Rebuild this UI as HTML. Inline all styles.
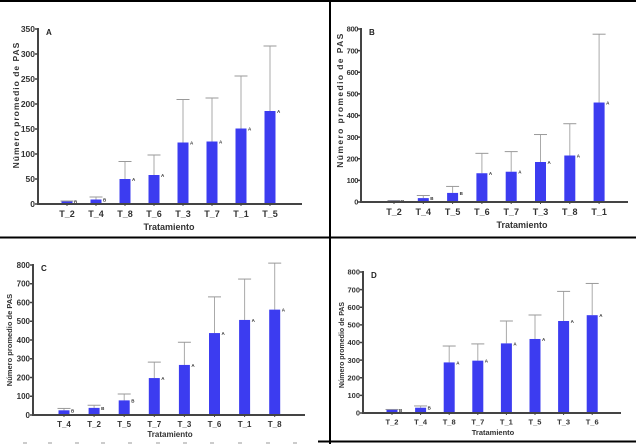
<!DOCTYPE html>
<html><head><meta charset="utf-8"><style>
body{margin:0;background:#fff}
svg{display:block;font-family:"Liberation Sans",Arial,sans-serif;font-weight:bold}
</style></head><body>
<svg id="s" width="636" height="444" viewBox="0 0 636 444" xmlns="http://www.w3.org/2000/svg">
<rect width="636" height="444" fill="#fff"/>
<line x1="0" y1="1" x2="636" y2="1" stroke="#000" stroke-width="2"/>
<line x1="0" y1="237.5" x2="636" y2="237.5" stroke="#000" stroke-width="2"/>
<line x1="330" y1="0" x2="330" y2="444" stroke="#000" stroke-width="2"/>
<line x1="318" y1="441.5" x2="636" y2="441.5" stroke="#000" stroke-width="2"/>
<g id="g"></g>
</svg>
<script>
var g=document.getElementById('g'),NS='http://www.w3.org/2000/svg';
function el(t,a,txt){var e=document.createElementNS(NS,t);for(var k in a)e.setAttribute(k,a[k]);if(txt!=null)e.textContent=txt;g.appendChild(e);return e;}
function panel(p){
 var sc=(p.y0-p.ytop)/p.max;
 for(var v=0;v<=p.max;v+=p.step){var y=p.y0-v*sc;
  el('line',{x1:p.ax-3,y1:y,x2:p.ax,y2:y,stroke:'#444','stroke-width':1.5});
  el('text',{x:p.ax-3,y:y+p.tfs*0.35,'text-anchor':'end','font-size':p.tfs,fill:'#333','letter-spacing':p.tls||0},String(v));}
 for(var i=0;i<8;i++){var cx=p.c0+i*p.sp,h=p.v[i]*sc,et=p.y0-p.e[i]*sc;
  el('line',{x1:cx,y1:p.y0-h,x2:cx,y2:et,stroke:'#aaa','stroke-width':1});
  el('line',{x1:cx-6.5,y1:et,x2:cx+6.5,y2:et,stroke:'#999','stroke-width':1});
  el('rect',{x:cx-5.5,y:p.y0-h,width:11,height:h,fill:'#3c3cf0'});
  el('text',{x:cx+7,y:p.y0-h+2,'font-size':4.5,fill:'#333'},p.l[i]);
  el('text',{x:cx,y:p.y0+p.fs+4,'text-anchor':'middle','font-size':p.fs,fill:'#333'},p.n[i]);
  el('line',{x1:cx,y1:p.y0,x2:cx,y2:p.y0+2,stroke:'#444'});}
 el('line',{x1:p.ax,y1:p.ytop-1,x2:p.ax,y2:p.y0+1,stroke:'#444','stroke-width':2});
 el('line',{x1:p.ax,y1:p.y0,x2:p.xe,y2:p.y0,stroke:'#444','stroke-width':2});
 el('text',{x:p.ax+8,y:p.ytop+6,'font-size':8,fill:'#222'},p.t);
 el('text',{x:p.xl,y:p.yl,'text-anchor':'middle','font-size':p.fs,fill:'#333'},'Tratamiento');
 el('text',{transform:'translate('+p.rx+','+p.ry+') rotate(-90)','text-anchor':'middle','font-size':p.yfs,fill:'#333','letter-spacing':p.ls},'Número promedio de PAS');
}
panel({ax:38,y0:204,ytop:29,max:350,step:50,xe:302,c0:67,sp:29,fs:9,tfs:8.5,yfs:8.5,ls:1,
 v:[5,9,50,58,123,125,151,186],e:[6,14,85,98,209,212,256,316],l:['B','B','A','A','A','A','A','A'],
 n:['T_2','T_4','T_8','T_6','T_3','T_7','T_1','T_5'],t:'A',xl:169,yl:230,rx:19,ry:105});
panel({ax:361,y0:202,ytop:29,max:800,step:100,xe:628,c0:394,sp:29.3,fs:9,tfs:7.5,tls:-0.4,yfs:8.5,ls:1.4,
 v:[5,18,42,133,140,185,215,460],e:[7,30,72,225,233,312,362,776],l:['B','B','B','A','A','A','A','A'],
 n:['T_2','T_4','T_5','T_6','T_7','T_3','T_8','T_1'],t:'B',xl:522,yl:228,rx:343,ry:100});
panel({ax:33,y0:415,ytop:265,max:800,step:100,xe:305,c0:64,sp:30.1,fs:8,tfs:8,yfs:7.5,ls:0,
 v:[25,38,78,197,267,437,507,562],e:[35,52,112,282,388,630,725,810],l:['B','B','B','A','A','A','A','A'],
 n:['T_4','T_2','T_5','T_7','T_3','T_6','T_1','T_8'],t:'C',xl:170,yl:437,rx:12,ry:340});
panel({ax:363,y0:413,ytop:272,max:800,step:100,xe:621,c0:392,sp:28.6,fs:7.5,tfs:7.5,yfs:7,ls:0,
 v:[18,30,287,297,395,420,522,555],e:[20,40,380,392,522,556,690,735],l:['B','B','A','A','A','A','A','A'],
 n:['T_2','T_4','T_8','T_7','T_1','T_5','T_3','T_6'],t:'D',xl:493,yl:435,rx:344,ry:345});
[25,50,77,103,130,158,185,212,240,268,295].forEach(function(x){el('line',{x1:x-2,y1:443,x2:x+2,y2:443,stroke:'#999','stroke-width':1});});
</script>
</body></html>
